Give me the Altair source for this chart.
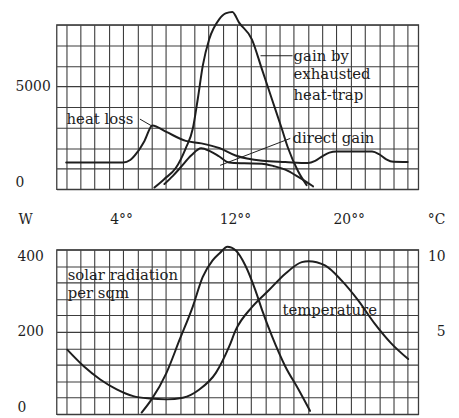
import altair as alt
import pandas as pd

FONT = "DejaVu Serif"
INK = "#1e1e1e"
GRID = "#3c3c3c"

# ---------------- top panel data (hours, W) ----------------
loss_h = [0, 2, 4, 4.5, 5, 5.5, 6.06, 7, 8.4, 9.5, 10.8, 11.9, 13.8, 15.4, 17, 17.5, 18, 18.5, 19, 21.5, 22, 22.5, 23, 24]
loss_w = [1300, 1300, 1300, 1420, 1800, 2350, 3100, 2800, 2350, 2230, 1990, 1640, 1380, 1320, 1270, 1380, 1600, 1780, 1830, 1830, 1700, 1450, 1330, 1320]

trap_h = [6.2, 6.9, 7.7, 8.4, 8.9, 9.25, 9.6, 10.05, 10.75, 11.2, 11.68, 12.15, 13.05, 13.75, 14.45, 15.15, 15.6, 16.3, 16.9]
trap_w = [80, 500, 1030, 1990, 2950, 4400, 6010, 7290, 8260, 8550, 8620, 8100, 7290, 5850, 4400, 2950, 1990, 870, 200]

direct_h = [6.9, 7.5, 8.0, 8.8, 9.48, 10.1, 10.76, 11.45, 12.5, 13.75, 14.6, 15.4, 16.4, 17.35]
direct_w = [250, 650, 1030, 1650, 1990, 1850, 1590, 1300, 1260, 1240, 1120, 950, 560, 140]

top_labels = ["heat loss", "gain by", "exhausted", "heat-trap", "direct gain"]
top_label_h = [0.02, 15.98, 15.98, 15.98, 15.91]
top_label_w = [3420, 6460, 5590, 4580, 2510]

# pointer lines: (h, W) -> (h2, W2)
ptr_h = [5.18, 13.66, 15.75]
ptr_w = [3410, 6490, 2470]
ptr_h2 = [5.99, 15.91, 10.82]
ptr_w2 = [3085, 6490, 1160]

# ---------------- bottom panel data ----------------
solar_h = [5.3, 6.0, 7.04, 7.97, 8.89, 9.59, 10.29, 10.8, 11.33, 11.92, 12.6, 13.3, 13.77, 14.47, 15.4, 16.33, 17.14]
solar_v = [4, 36, 100, 181, 261, 333, 374, 392, 407, 398, 361, 301, 253, 189, 116, 60, 8]

temp_h = [0.07, 1.23, 2.39, 3.55, 4.71, 5.87, 7.04, 8.2, 9.36, 10.52, 11.45, 11.92, 13.07, 14.24, 15.4, 16.56, 17.03, 18.19, 19.35, 20.51, 21.67, 22.83, 24.04]
temp_c = [3.92, 2.91, 2.11, 1.51, 1.1, 0.95, 0.9, 1.0, 1.5, 2.51, 4.1, 5.12, 6.52, 7.53, 8.54, 9.24, 9.3, 9.04, 8.13, 6.93, 5.52, 4.32, 3.35]

bot_labels = ["solar radiation", "per sqm", "temperature"]
bot_label_h = [0.1, 0.1, 15.2]
bot_label_v = [338, 294, 253]

hour_ticks = list(range(0, 25))
hour_labels = [4, 12, 20]
w_ticks = list(range(0, 8001, 1000))
w_labels = [0, 5000]
sol_ticks = list(range(0, 401, 40))
sol_labels = [0, 200, 400]
temp_labels = [5, 10]

X_DOM = [-0.68, 24.75]

# ---------------- frames ----------------
rows = []
for name, hs, ws in [("loss", loss_h, loss_w), ("trap", trap_h, trap_w), ("direct", direct_h, direct_w)]:
    for h, w in zip(hs, ws):
        rows.append(dict(kind="line", series=name, h=h, v=w))
for t, h, w in zip(top_labels, top_label_h, top_label_w):
    rows.append(dict(kind="text", label=t, h=h, v=w))
for h, w, h2, w2 in zip(ptr_h, ptr_w, ptr_h2, ptr_w2):
    rows.append(dict(kind="rule", h=h, v=w, h2=h2, v2=w2))
top_df = pd.DataFrame(rows)


def list_expr(vals):
    return "indexof([" + ",".join(str(v) for v in vals) + "], datum.value) >= 0"


x_top = alt.X(
    "h:Q",
    scale=alt.Scale(domain=X_DOM, nice=False, zero=False),
    axis=alt.Axis(values=hour_ticks, grid=True, ticks=False, tickSize=0, domain=False, title=None,
                  labelExpr=list_expr(hour_labels) + " ? datum.value + '°°' : ''",
                  labelPadding=24, labelFont=FONT, labelFontSize=14,
                  labelColor=INK, labelBaseline="top", labelOffset=-2),
)
y_top = alt.Y(
    "v:Q",
    scale=alt.Scale(domain=[0, 8000], nice=False, zero=True),
    axis=alt.Axis(values=w_ticks, grid=True, ticks=False, tickSize=0, domain=False,
                  labelExpr=list_expr(w_labels) + " ? datum.label : ''",
                  format="d", labelAlign="left", labelPadding=42, labelFlush=True,
                  labelFont=FONT, labelFontSize=14, labelColor=INK,
                  title="W", titleAngle=0, titleAlign="left", titleBaseline="top",
                  titleX=-39, titleY=190, titleFont=FONT, titleFontSize=14,
                  titleFontWeight="normal", titleColor=INK),
)

LINE = dict(color=INK, strokeWidth=2, interpolate="monotone", strokeJoin="round", strokeCap="round")

base_top = alt.Chart(top_df).encode(x=x_top, y=y_top)
top_lines = base_top.transform_filter("datum.kind == 'line'").mark_line(**LINE).encode(detail="series:N")
top_text = base_top.transform_filter("datum.kind == 'text'").mark_text(
    align="left", baseline="middle", font=FONT, fontSize=15, color=INK).encode(text="label:N")
top_rules = base_top.transform_filter("datum.kind == 'rule'").mark_rule(
    color=INK, strokeWidth=1).encode(x2="h2:Q", y2="v2:Q")
top = alt.layer(top_lines, top_rules, top_text).properties(width=365, height=166)

# bottom
srows = [dict(kind="line", h=h, v=v) for h, v in zip(solar_h, solar_v)]
srows += [dict(kind="text", h=h, v=v, label=t) for t, h, v in zip(bot_labels, bot_label_h, bot_label_v)]
sol_df = pd.DataFrame(srows)
temp_df = pd.DataFrame(dict(h=temp_h, t=temp_c))

x_bot = alt.X(
    "h:Q",
    scale=alt.Scale(domain=X_DOM, nice=False, zero=False),
    axis=alt.Axis(values=hour_ticks, grid=True, ticks=False, labels=False, domain=False, title=None),
)
sol_scale = alt.Scale(domain=[0, 400], nice=False, zero=True)
y_sol = alt.Y(
    "v:Q", scale=sol_scale,
    axis=alt.Axis(values=sol_ticks, grid=True, ticks=False, tickSize=0, domain=False, title=None,
                  labelExpr=list_expr(sol_labels) + " ? datum.label : ''",
                  labelAlign="left", labelPadding=40, labelFlush=True,
                  labelFont=FONT, labelFontSize=14, labelColor=INK),
)
solar_line = alt.Chart(sol_df).transform_filter("datum.kind == 'line'").mark_line(**LINE).encode(
    x=x_bot, y=y_sol)
solar_text = alt.Chart(sol_df).transform_filter("datum.kind == 'text'").mark_text(
    align="left", baseline="middle", font=FONT, fontSize=15, color=INK).encode(
    x=x_bot, y=alt.Y("v:Q", scale=sol_scale, axis=None), text="label:N")
temp_line = alt.Chart(temp_df).mark_line(**LINE).encode(
    x=x_bot,
    y=alt.Y("t:Q", scale=alt.Scale(domain=[0, 10], nice=False, zero=True),
            axis=alt.Axis(orient="right", values=temp_labels, grid=False, ticks=False, tickSize=0,
                          domain=False, labelAlign="right", labelPadding=27, labelFlush=True,
                          labelFont=FONT, labelFontSize=14, labelColor=INK,
                          title="°C", titleAngle=0, titleAlign="left", titleBaseline="top",
                          titleX=9, titleY=-37, titleFont=FONT, titleFontSize=14,
                          titleFontWeight="normal", titleColor=INK)),
)
bottom = alt.layer(solar_line, solar_text, temp_line).resolve_scale(y="independent").properties(
    width=365, height=166)

chart = alt.vconcat(top, bottom, spacing=61, bounds="flush").properties(
    padding={"left": 6, "top": 0, "right": 5, "bottom": 0},
    background="white",
).configure_view(stroke=GRID, strokeWidth=1.3).configure_axis(
    gridColor=GRID, gridWidth=1.1, gridOpacity=1)

chart.save("out.html", embed_options={"renderer": "svg", "actions": False})
